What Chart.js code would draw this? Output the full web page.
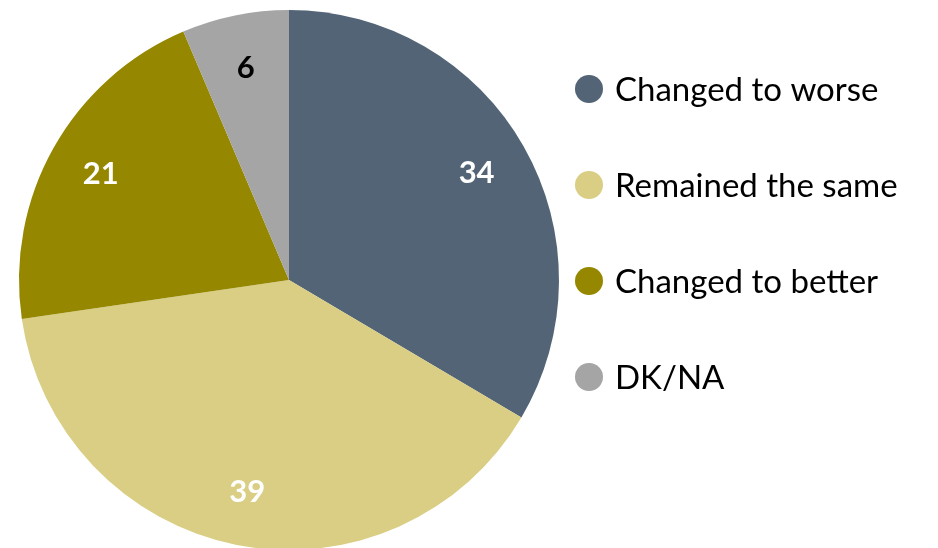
<!DOCTYPE html>
<html><head><meta charset="utf-8">
<script src="https://cdn.jsdelivr.net/npm/chart.js@4"></script>
<style>
html,body{margin:0;padding:0;background:#fff;overflow:hidden;width:938px;height:548px}
#wrap{position:relative;width:938px;height:550px}
</style></head>
<body><div id="wrap"><canvas id="c" width="938" height="550"></canvas></div>
<script>
const categories = ["Changed to worse","Remained the same","Changed to better","DK/NA"];
const values = [33.5, 39.2, 20.9, 6.4];
const colors = ["#536476","#D9CE84","#958800","#A5A5A5"];
const labelColors = ["#FFFFFF","#FFFFFF","#FFFFFF","#000000"];
const FONT = "Lato, 'Open Sans', sans-serif";

const sliceLabels = {
  id:'sliceLabels',
  afterDatasetsDraw(chart){
    const ctx = chart.ctx;
    const meta = chart.getDatasetMeta(0);
    ctx.save();
    ctx.font = "bold 31px " + FONT;
    ctx.textAlign = 'center'; ctx.textBaseline = 'middle';
    meta.data.forEach((arc,i)=>{
      const p = arc.getProps(['x','y','startAngle','endAngle','outerRadius'],true);
      const a = (p.startAngle+p.endAngle)/2, r = p.outerRadius*0.8;
      ctx.fillStyle = labelColors[i];
      ctx.fillText(String(Math.round(values[i])), p.x+Math.cos(a)*r, p.y+Math.sin(a)*r);
    });
    ctx.restore();
  }
};
const sideLegend = {
  id:'sideLegend',
  afterDraw(chart){
    const ctx = chart.ctx;
    ctx.save();
    ctx.font = "33px " + FONT;
    ctx.textBaseline = 'middle'; ctx.textAlign = 'left';
    categories.forEach((c,i)=>{
      const y = 89 + i*96;
      ctx.fillStyle = colors[i];
      ctx.beginPath(); ctx.arc(589, y, 14, 0, Math.PI*2); ctx.fill();
      ctx.fillStyle = '#000';
      ctx.fillText(c, 615, y+1);
    });
    ctx.restore();
  }
};
new Chart(document.getElementById('c'),{
  type:'pie',
  data:{labels:categories,datasets:[{data:values,backgroundColor:colors,borderWidth:0}]},
  options:{
    responsive:false, animation:false,
    layout:{padding:{left:19,top:10,right:379,bottom:0}},
    plugins:{legend:{display:false},tooltip:{enabled:false}}
  },
  plugins:[sliceLabels, sideLegend]
});
</script></body></html>
